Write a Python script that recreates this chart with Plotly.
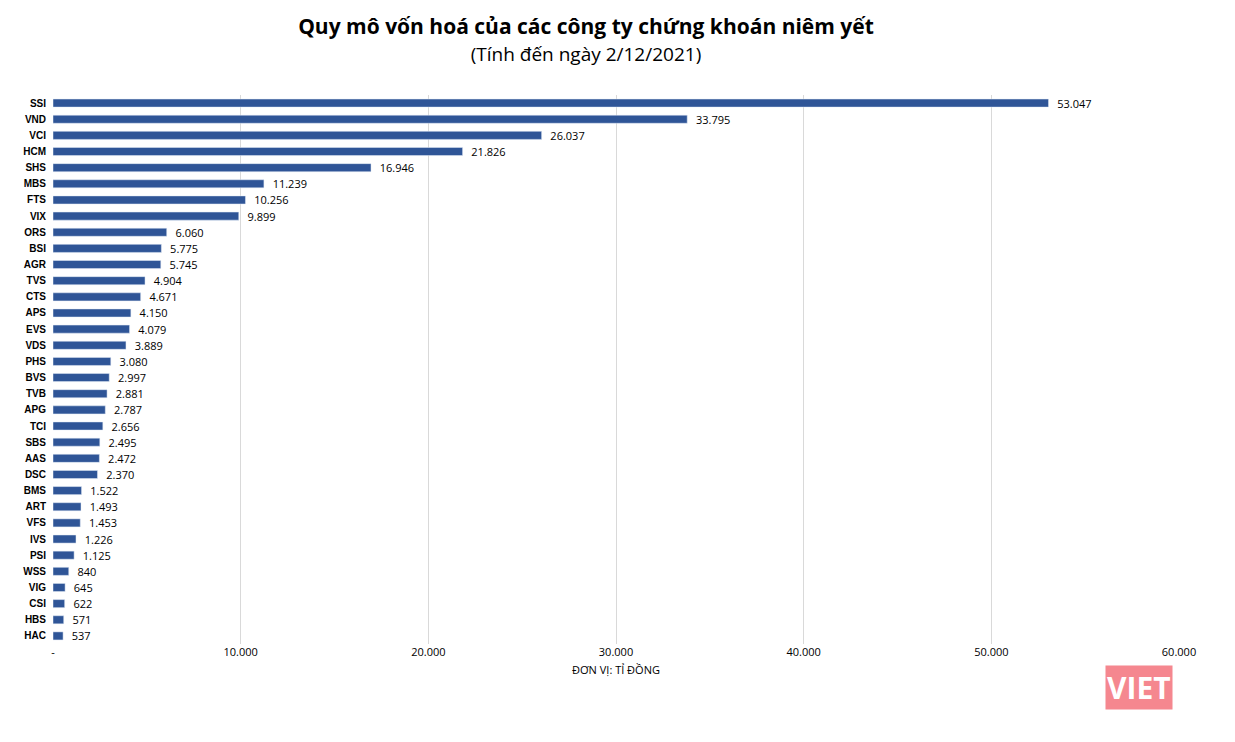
import plotly.graph_objects as go

companies = ["SSI", "VND", "VCI", "HCM", "SHS", "MBS", "FTS", "VIX", "ORS", "BSI", "AGR", "TVS",
             "CTS", "APS", "EVS", "VDS", "PHS", "BVS", "TVB", "APG", "TCI", "SBS", "AAS", "DSC",
             "BMS", "ART", "VFS", "IVS", "PSI", "WSS", "VIG", "CSI", "HBS", "HAC"]
values = [53047, 33795, 26037, 21826, 16946, 11239, 10256, 9899, 6060, 5775, 5745, 4904,
          4671, 4150, 4079, 3889, 3080, 2997, 2881, 2787, 2656, 2495, 2472, 2370,
          1522, 1493, 1453, 1226, 1125, 840, 645, 622, 571, 537]
tick_vals = [0, 10000, 20000, 30000, 40000, 50000, 60000]
tick_text = ["-", "10.000", "20.000", "30.000", "40.000", "50.000", "60.000"]

labels = ["  " + f"{v:,}".replace(",", ".") for v in values]

fig = go.Figure(go.Bar(
    x=values, y=companies, orientation="h",
    marker_color="#2F5597", width=0.5,
    text=labels, textposition="outside", cliponaxis=False, constraintext="none",
    textfont=dict(size=11, color="black"),
))

fig.update_layout(
    width=1235, height=742,
    margin=dict(l=45, r=64, t=87, b=106),
    paper_bgcolor="white", plot_bgcolor="white",
    font=dict(family="Open Sans, Arial", color="black"),
    title=dict(
        text="<b>Quy mô vốn hoá của các công ty chứng khoán niêm yết</b><br><span style='font-size:19px'>(Tính đến ngày 2/12/2021)</span>",
        x=0.468, xanchor="center", y=0.965, yanchor="top",
        font=dict(size=21, color="black"),
    ),
    xaxis=dict(
        range=[0, 60000], tickvals=tick_vals, ticktext=tick_text,
        showgrid=True, gridcolor="#D9D9D9", zeroline=False,
        tickfont=dict(size=11), ticks="",
        title=dict(text="ĐƠN VỊ: TỈ ĐỒNG", font=dict(size=11), standoff=8),
    ),
    yaxis=dict(
        autorange="reversed", automargin=False,
        tickvals=companies, ticktext=[f"<b>{c}</b>" for c in companies],
        tickfont=dict(size=10, family="Arial"), ticklabelstandoff=6,
        ticks="", showline=False,
    ),
    showlegend=False,
)

fig.add_annotation(
    x=0.995, y=-0.08, xref="paper", yref="paper", xanchor="right", yanchor="middle",
    text="<b>VIET</b>", showarrow=False, bgcolor="#F4737C",
    font=dict(size=30, color="white"), opacity=0.85,
)

fig.write_html("out.html")
